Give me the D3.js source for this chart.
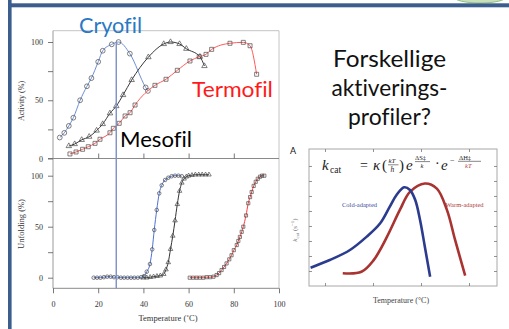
<!DOCTYPE html>
<html><head><meta charset="utf-8">
<script src="https://cdn.jsdelivr.net/npm/d3@7"></script>
<style>html,body{margin:0;padding:0;background:#fff;overflow:hidden}svg{display:block}text{font-variant-ligatures:none;font-feature-settings:"liga" 0}</style>
</head><body>
<svg id="c" width="509" height="329"></svg>
<script>
// ---------- data ----------
const xTicks = [0, 20, 40, 60, 80, 100];
const yTicks = [0, 25, 50, 75, 100];
const yTickLabels = [0, 50, 100];

// Activity (%) vs temperature
const cryoActT = [3, 5, 7, 9, 12, 15, 17, 20, 22, 26, 29, 34, 41, 42];
const cryoAct  = [18, 22, 28, 35, 50, 62, 69, 83, 92.5, 98, 100, 90, 61, 58];
const mesoActT = [7, 9.6, 12.7, 16, 19.3, 22, 25.2, 28, 31, 34.8, 42.2, 49, 52, 56, 59, 65, 67];
const mesoAct  = [10.7, 12.4, 16, 18.7, 24, 29.6, 38.8, 45, 54.5, 67.4, 87, 98.3, 100, 98.3, 94.2, 87.4, 79.4];
const thermoActT = [7.5, 10.2, 13.1, 15.6, 18.6, 20.8, 25.2, 26.7, 29.3, 31.9, 34.1, 36.3, 45.1, 50, 55, 60.6, 64.7, 67.7, 70.2, 78.3, 84.2, 87.2, 90.1];
const thermoAct  = [3.9, 5.6, 7.9, 10.1, 13, 16.5, 22.1, 25.9, 30.2, 36.5, 39.3, 45.9, 62.8, 68, 75.7, 83.7, 87.4, 89.4, 93.7, 98.9, 99.7, 96.8, 72.3];

// Unfolding (%) vs temperature
const cryoUnfT = [18, 19.5, 21, 22.5, 24, 25.5, 27, 28.5, 30, 31.5, 33, 34.5, 36, 37.5, 39, 40.3, 41.5, 42.9, 43.9, 44.8, 45.9, 47, 48.1, 49.6, 51, 52.5, 54, 55.5, 57];
const cryoUnf  = [0, 0, 0, 0.5, 1, 1, 0.5, 0.5, 0, 0, 0, 0, 0, 0, 0.5, 1.6, 5.9, 13.4, 27.8, 46.8, 66.4, 82.7, 90.6, 95.8, 98, 99.5, 100, 100, 99.5];
const mesoUnfT = [40, 41.5, 43, 44.5, 46, 47.5, 49, 50, 51, 52, 53, 54, 55, 56, 57, 58, 59, 60, 61.5, 63, 64.5, 66, 67.5, 69];
const mesoUnf  = [0, 0, 0.5, 1, 1.5, 2, 3.5, 8, 15, 28, 41, 56, 72, 85, 93, 97, 99, 100, 100.5, 101, 101, 101, 101, 101];
const thermoUnfT = [60.5, 62, 63.5, 65, 66.5, 68, 69.5, 71, 72.4, 73.5, 74.6, 75.7, 76.8, 78, 79, 80, 81.3, 82, 82.7, 83.5, 84.2, 85.4, 86.4, 87.2, 87.9, 88.8, 89.7, 90.6, 91.6, 92.5, 93.5];
const thermoUnf  = [0, 0, 0, 0, 0, 0.5, 0.5, 1, 2.6, 4.5, 7.5, 10.5, 14, 18, 22, 27, 32, 36, 40, 45, 50, 61, 73, 79, 84, 90, 94, 97, 99, 100, 100];

const markerTemp = 28;

// Inset: kcat vs temperature (arbitrary units)
const insetXTicks = [10, 20, 30, 40];
const insetYTicks = [1, 2, 3, 4, 5, 6, 7, 8];
const coldT = [7.0, 11.0, 15.2, 18.7, 21.5, 23.5, 24.9, 26.5, 27.7, 28.8, 29.8, 30.8, 31.9];
const coldK = [1.22, 1.73, 2.4, 3.29, 4.18, 5.29, 6.07, 6.58, 6.4, 5.73, 4.4, 2.62, 0.62];
const warmT = [13.7, 17.6, 20.1, 22.9, 25.6, 27.7, 30.8, 33.3, 35.4, 37.1, 39.2];
const warmK = [0.85, 0.95, 1.71, 3.27, 5.07, 6.27, 6.83, 6.49, 5.07, 3.07, 0.69];

// ---------- drawing ----------
const svg = d3.select("#c");
const serif = "'Liberation Serif','DejaVu Serif',serif";
const sans = "Lato,'Open Sans',sans-serif";
const frameCol = "#3b5e8e";

// slide frame
svg.append("ellipse").attr("cx", 480).attr("cy", -3).attr("rx", 26).attr("ry", 6)
  .attr("fill", "#c9e0bb").attr("stroke", "#8fbf80").attr("stroke-width", 1);
svg.append("rect").attr("x", 8).attr("y", 3.3).attr("width", 501).attr("height", 4).attr("fill", frameCol);
svg.append("rect").attr("x", 8).attr("y", 0).attr("width", 3.6).attr("height", 329).attr("fill", frameCol);

// main scales
const x = d3.scaleLinear().domain([0, 100]).range([53, 279]);
const yTop = d3.scaleLinear().domain([0, 100]).range([158.5, 42]);
const yBot = d3.scaleLinear().domain([0, 100]).range([277.7, 175.7]);

const g = svg.append("g");
// plot frames
g.append("line").attr("x1", 53).attr("x2", 279).attr("y1", 30.7).attr("y2", 30.7).attr("stroke", "#c4c4c4");
g.append("line").attr("x1", 279).attr("x2", 279).attr("y1", 30.7).attr("y2", 288.3).attr("stroke", "#c4c4c4");
g.append("line").attr("x1", 53).attr("x2", 53).attr("y1", 30.7).attr("y2", 288.3).attr("stroke", "#9a9a9a");
g.append("line").attr("x1", 48).attr("x2", 279).attr("y1", 158.5).attr("y2", 158.5).attr("stroke", "#8a8a8a");
g.append("line").attr("x1", 53).attr("x2", 279).attr("y1", 288.3).attr("y2", 288.3).attr("stroke", "#8a8a8a");

function styleAxis(sel) {
  sel.select(".domain").remove();
  sel.selectAll("line").attr("stroke", "#555").attr("stroke-width", 0.8);
  sel.selectAll("text").attr("font-family", serif).attr("font-size", 8).attr("fill", "#333");
}
const fmtY = d => yTickLabels.includes(d) ? d : "";
g.append("g").attr("transform", "translate(53,0)")
  .call(d3.axisLeft(yTop).tickValues(yTicks).tickFormat(fmtY).tickSize(5).tickPadding(5)).call(styleAxis);
g.append("g").attr("transform", "translate(53,0)")
  .call(d3.axisLeft(yBot).tickValues(yTicks).tickFormat(fmtY).tickSize(5).tickPadding(5)).call(styleAxis);
g.append("g").attr("transform", "translate(0,288.3)")
  .call(d3.axisBottom(x).tickValues(xTicks).tickSize(5).tickPadding(8)).call(styleAxis);
g.append("g").attr("transform", "translate(0,158.5)")
  .call(d3.axisBottom(x).tickValues(xTicks.slice(1, -1)).tickFormat("").tickSize(-5)).call(styleAxis);

// axis titles
g.append("text").attr("transform", "translate(24,101) rotate(-90)").attr("text-anchor", "middle")
  .attr("font-family", serif).attr("font-size", 8).attr("fill", "#333").text("Activity (%)");
g.append("text").attr("transform", "translate(24,224) rotate(-90)").attr("text-anchor", "middle")
  .attr("font-family", serif).attr("font-size", 8.5).attr("fill", "#333").text("Unfolding (%)");
g.append("text").attr("x", 168).attr("y", 321).attr("text-anchor", "middle")
  .attr("font-family", serif).attr("font-size", 8.5).attr("fill", "#333").text("Temperature (˚C)");

function series(T, V, yS, color, sym, size, lw) {
  const pts = T.map((t, i) => [t, V[i]]);
  const line = d3.line().x(d => x(d[0])).y(d => yS(d[1])).curve(d3.curveMonotoneX);
  g.append("path").datum(pts).attr("d", line).attr("fill", "none").attr("stroke", color).attr("stroke-width", lw);
  g.append("g").selectAll("path").data(pts).join("path")
    .attr("transform", d => `translate(${x(d[0])},${yS(d[1])})`)
    .attr("d", d3.symbol().type(sym).size(size))
    .attr("fill", "none").attr("stroke", "#4a4a4a").attr("stroke-width", 0.7);
}
series(cryoActT, cryoAct, yTop, "#6f8fd6", d3.symbolCircle, 18, 1);
series(mesoActT, mesoAct, yTop, "#3a3a3a", d3.symbolTriangle, 13, 1);
series(thermoActT, thermoAct, yTop, "#ff5a5a", d3.symbolSquare, 16, 1);
series(cryoUnfT, cryoUnf, yBot, "#4f72d4", d3.symbolCircle, 10, 1);
series(mesoUnfT, mesoUnf, yBot, "#333", d3.symbolTriangle, 9, 1);
series(thermoUnfT, thermoUnf, yBot, "#ff3c3c", d3.symbolSquare, 10, 1);

// vertical marker line
g.append("line").attr("x1", x(markerTemp)).attr("x2", x(markerTemp))
  .attr("y1", yTop(100)).attr("y2", 288.3).attr("stroke", "#8094c8").attr("stroke-width", 1.5);

// series labels
function label(txt, xx, yy, col, fs, len) {
  svg.append("text").attr("x", xx).attr("y", yy).attr("font-family", sans).attr("font-size", fs)
    .attr("fill", col).attr("textLength", len).attr("lengthAdjust", "spacingAndGlyphs").text(txt);
}
label("Cryofil", 79, 33, "#2a79c4", 21, 63);
label("Mesofil", 120, 146.5, "#000", 21, 72);
label("Termofil", 192, 97, "#ff1a1a", 21, 81);

// title text
const lines = ["Forskellige", "aktiverings-", "profiler?"];
const widths = [113, 116, 83];
const bases = [66.5, 96, 125];
lines.forEach((t, i) => {
  svg.append("text").attr("x", 389.5 - widths[i] / 2).attr("y", bases[i]).attr("font-family", sans)
    .attr("font-size", 23.5).attr("fill", "#111").attr("textLength", widths[i])
    .attr("lengthAdjust", "spacingAndGlyphs").text(t);
});

// ---------- inset ----------
const ix = d3.scaleLinear().domain([6.67, 45.83]).range([309, 497]);
const iy = d3.scaleLinear().domain([0, 9.13]).range([286, 149]);
const ig = svg.append("g");
ig.append("rect").attr("x", 309).attr("y", 149).attr("width", 188).attr("height", 137)
  .attr("fill", "#fff").attr("stroke", "#a8a8a8").attr("stroke-width", 1);
function styleInset(sel) {
  sel.select(".domain").remove();
  sel.selectAll("line").attr("stroke", "#777").attr("stroke-width", 0.8);
}
ig.append("g").attr("transform", "translate(309,0)").call(d3.axisLeft(iy).tickValues(insetYTicks).tickFormat("").tickSize(-3)).call(styleInset);
ig.append("g").attr("transform", "translate(497,0)").call(d3.axisRight(iy).tickValues(insetYTicks).tickFormat("").tickSize(-3)).call(styleInset);
ig.append("g").attr("transform", "translate(0,286)").call(d3.axisBottom(ix).tickValues(insetXTicks).tickFormat("").tickSize(-3)).call(styleInset);
ig.append("g").attr("transform", "translate(0,149)").call(d3.axisTop(ix).tickValues(insetXTicks).tickFormat("").tickSize(-3)).call(styleInset);

const iline = d3.line().x(d => ix(d[0])).y(d => iy(d[1])).curve(d3.curveCatmullRom.alpha(0.5));
ig.append("path").datum(warmT.map((t, i) => [t, warmK[i]])).attr("d", iline)
  .attr("fill", "none").attr("stroke", "#a93330").attr("stroke-width", 2.6);
ig.append("path").datum(coldT.map((t, i) => [t, coldK[i]])).attr("d", iline)
  .attr("fill", "none").attr("stroke", "#2b3c8e").attr("stroke-width", 2.6);

ig.append("text").attr("x", 342).attr("y", 206.5).attr("font-family", serif).attr("font-size", 6.5)
  .attr("fill", "#3b4c9e").text("Cold-adapted");
ig.append("text").attr("x", 445.5).attr("y", 206.5).attr("font-family", serif).attr("font-size", 6.5)
  .attr("fill", "#b03a3a").text("Warm-adapted");
ig.append("text").attr("x", 401).attr("y", 303).attr("text-anchor", "middle").attr("font-family", serif)
  .attr("font-size", 8).attr("fill", "#444").text("Temperature (°C)");
const yl = ig.append("text").attr("transform", "translate(297,230) rotate(-90)").attr("text-anchor", "middle")
  .attr("font-family", serif).attr("font-size", 7).attr("fill", "#777");
yl.append("tspan").attr("font-style", "italic").text("k");
yl.append("tspan").attr("font-size", 5).attr("dy", 1.5).text("cat");
yl.append("tspan").attr("dy", -1.5).text(" (s");
yl.append("tspan").attr("font-size", 5).attr("dy", -3).text("−1");
yl.append("tspan").attr("dy", 3).text(")");
svg.append("text").attr("x", 290).attr("y", 154).attr("font-family", sans).attr("font-size", 9).attr("fill", "#111").text("A");

// formula
function ft(t, xx, yy, fs, opts = {}) {
  return ig.append("text").attr("x", xx).attr("y", yy).attr("font-family", serif).attr("font-size", fs)
    .attr("font-style", opts.italic ? "italic" : "normal").attr("fill", opts.fill || "#222").text(t);
}
function fbar(x1, x2, yy) {
  ig.append("line").attr("x1", x1).attr("x2", x2).attr("y1", yy).attr("y2", yy).attr("stroke", "#333").attr("stroke-width", 0.6);
}
ft("k", 322, 170, 15, { italic: true });
ft("cat", 330, 173, 9.5);
ft("=", 360, 170, 14);
ft("κ", 373, 170, 15, { italic: true });
ft("(", 382, 170, 15);
ft("kT", 388.5, 163, 7, { italic: true }); fbar(388, 398.5, 164.8); ft("h", 390.5, 172, 7.5, { italic: true });
ft(")", 399, 170, 15);
ft("e", 406, 170, 15, { italic: true });
ft("ΔS‡", 415, 160, 6.5); fbar(415, 430, 161.6); ft("k", 420.5, 167.5, 6.5, { italic: true });
ft("·", 435, 168, 14);
ft("e", 441, 170, 15, { italic: true });
ft("−", 450, 163, 8);
ft("ΔH‡", 459, 159.5, 6.5); fbar(458, 481, 161.3); ft("kT", 465, 168, 6.5, { italic: true, fill: "#b04040" });
</script>
</body></html>
